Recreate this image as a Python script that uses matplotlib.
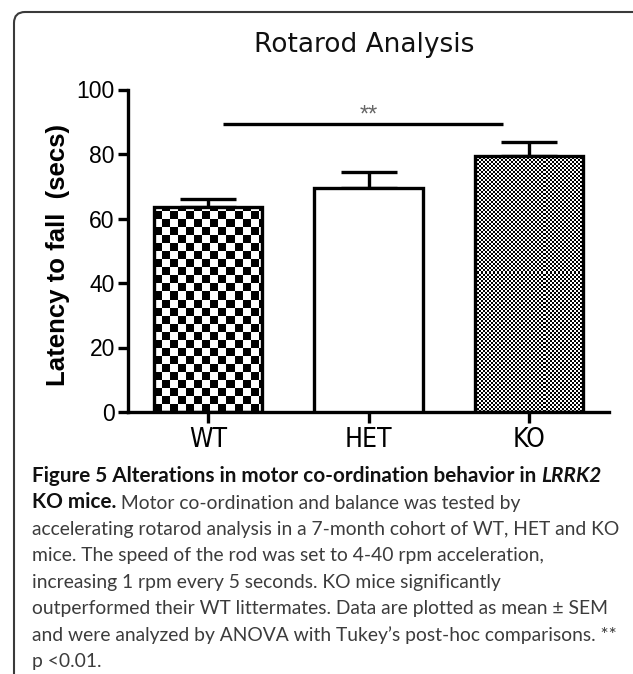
import numpy as np
import matplotlib
matplotlib.use("Agg")
import matplotlib.pyplot as plt
from matplotlib.patches import FancyBboxPatch
from matplotlib import font_manager as fm

# ---------------- data ----------------
categories = ["WT", "HET", "KO"]
means = [63.6, 69.5, 79.4]
sems = [2.6, 4.8, 4.2]
yticks = [0, 20, 40, 60, 80, 100]
sig_from, sig_to = 0.09, 1.84
sig_level = 89.2
sig_text = "**"
title = "Rotarod Analysis"
ylabel = "Latency to fall  (secs)"
patterns = ["checker8", "none", "checker2"]

caption_line1 = [("Figure 5 Alterations in motor co-ordination behavior in ", "bold", "normal"),
                 ("LRRK2", "bold", "italic")]
caption_line2 = [("KO mice.", "bold", "normal"),
                 (" Motor co-ordination and balance was tested by", "normal", "normal")]
caption_rest = [
    "accelerating rotarod analysis in a 7-month cohort of WT, HET and KO",
    "mice. The speed of the rod was set to 4-40 rpm acceleration,",
    "increasing 1 rpm every 5 seconds. KO mice significantly",
    "outperformed their WT littermates. Data are plotted as mean \u00b1 SEM",
    "and were analyzed by ANOVA with Tukey\u2019s post-hoc comparisons. **",
    "p <0.01.",
]

# ---------------- pick a narrow font for x tick labels ----------------
narrow_prop = None
cands = []
for f in fm.fontManager.ttflist:
    key = (f.name + " " + f.fname).lower()
    if ("narrow" in key or "condensed" in key) and f.style == "normal" \
            and f.weight in (400, "normal", "regular") and "semi" not in key \
            and "extra" not in key:
        cands.append(f)
pref = ["liberation sans narrow", "arimo", "dejavu", "roboto", "open", "noto sans"]
cands.sort(key=lambda f: next((i for i, p in enumerate(pref)
                               if p in (f.name + f.fname).lower()), 99))
if cands:
    narrow_prop = fm.FontProperties(fname=cands[0].fname, size=19)
    xt_size = 19
else:
    narrow_prop = fm.FontProperties(family="Liberation Sans", size=16.5)

# ---------------- figure ----------------
W, H, DPI = 633, 674, 100
fig = plt.figure(figsize=(W / DPI, H / DPI), dpi=DPI)
fig.patch.set_facecolor("white")

frame = FancyBboxPatch((0.14, -0.5), 6.35, 6.62 + 0.5,
                       boxstyle="round,pad=0,rounding_size=0.11",
                       transform=fig.dpi_scale_trans, facecolor="none",
                       edgecolor="#3a3a3a", linewidth=1.5, zorder=0)
fig.add_artist(frame)

ax = fig.add_axes([128 / W, 1 - 412 / H, (609 - 128) / W, (412 - 89.5) / H])
x = np.arange(len(categories))
LW = 2.4

ax.set_xlim(-0.5, len(categories) - 0.5)
ax.set_ylim(0, 100)

bars = ax.bar(x, means, width=0.675, facecolor="white", edgecolor="black",
              linewidth=LW, zorder=3)

fig.canvas.draw()
renderer = fig.canvas.get_renderer()
px_per_x = ax.transData.transform((1, 0))[0] - ax.transData.transform((0, 0))[0]
px_per_y = ax.transData.transform((0, 1))[1] - ax.transData.transform((0, 0))[1]
for bar, pat in zip(bars, patterns):
    if pat == "none":
        continue
    cell = 8 if pat == "checker8" else 2
    bx0, by0 = bar.get_x(), bar.get_y()
    bw, bh = bar.get_width(), bar.get_height()
    nx = int(np.ceil(bw * px_per_x / cell)) + 1
    ny = int(np.ceil(bh * px_per_y / cell)) + 1
    ii, jj = np.indices((ny, nx))
    img = ((ii + jj) % 2).astype(float)
    ext = (bx0, bx0 + nx * cell / px_per_x, by0, by0 + ny * cell / px_per_y)
    bar.set_facecolor("none")
    im = ax.imshow(img, cmap="gray", vmin=0, vmax=1, extent=ext, origin="lower",
                   interpolation="nearest", aspect="auto", zorder=2)
    im.set_clip_path(bar)
ax.set_xlim(-0.5, len(categories) - 0.5)
ax.set_ylim(0, 100)

ax.errorbar(x, means, yerr=[np.zeros(len(sems)), sems], fmt="none",
            ecolor="black", elinewidth=LW, capsize=20, capthick=LW, zorder=1)

ax.plot([sig_from, sig_to], [sig_level, sig_level], color="black",
        linewidth=LW, solid_capstyle="butt", zorder=4, clip_on=False)
ax.text(1.0, sig_level + 1.0, sig_text, ha="center", va="baseline",
        fontsize=17, color="#666666", family="Liberation Sans")

for s in ["top", "right"]:
    ax.spines[s].set_visible(False)
for s in ["left", "bottom"]:
    ax.spines[s].set_linewidth(LW)
ax.set_yticks(yticks)
ax.set_yticklabels([str(v) for v in yticks], family="Liberation Sans", fontsize=16.5)
ax.set_xticks(x)
ax.set_xticklabels(categories, fontproperties=narrow_prop)
ax.tick_params(axis="y", direction="out", length=7.5, width=LW, pad=2)
ax.tick_params(axis="x", direction="out", length=8, width=LW, pad=3)

ax.set_ylabel(ylabel, family="Liberation Sans", fontweight="bold", fontsize=18.5)
ax.yaxis.label.set_va("center")
ax.yaxis.set_label_coords((58 - 128) / 481, (412 - 255) / 322.5)

fig.text(364 / W, 1 - 52 / H, title, ha="center", va="baseline",
         family="DejaVu Sans", fontsize=19, color="#111111")

# ---------------- caption ----------------
cax = fig.add_axes([0, 0, 1, 1], zorder=-1)
cax.axis("off")
cfont = "Lato"


def fit_size(txt, weight, target_px):
    t = fig.text(0, 0, txt, family=cfont, fontweight=weight, fontsize=10)
    w = t.get_window_extent(renderer).width
    t.remove()
    return 10 * target_px / w


bold_size = fit_size("".join(p[0] for p in caption_line1), "bold", 574)
reg_size = fit_size(caption_rest[0], "normal", 588)

x0 = 32 / W
baselines = [482 + 26.43 * i for i in range(8)]


def draw_line(pieces, base):
    prev = None
    for txt, weight, style in pieces:
        size = bold_size if weight == "bold" else reg_size
        color = "#111111" if weight == "bold" else "#3c3c3c"
        if prev is None:
            prev = cax.text(x0, 1 - base / H, txt, transform=fig.transFigure,
                            ha="left", va="baseline", family=cfont,
                            fontweight=weight, fontstyle=style,
                            fontsize=size, color=color)
        else:
            prev = cax.annotate(txt, xy=(1, 0), xycoords=prev, ha="left",
                                va="bottom", family=cfont, fontweight=weight,
                                fontstyle=style, fontsize=size, color=color)


draw_line(caption_line1, baselines[0])
draw_line(caption_line2, baselines[1])
for i, line in enumerate(caption_rest):
    draw_line([(line, "normal", "normal")], baselines[2 + i])

fig.savefig("out.png", dpi=DPI, facecolor="white")
